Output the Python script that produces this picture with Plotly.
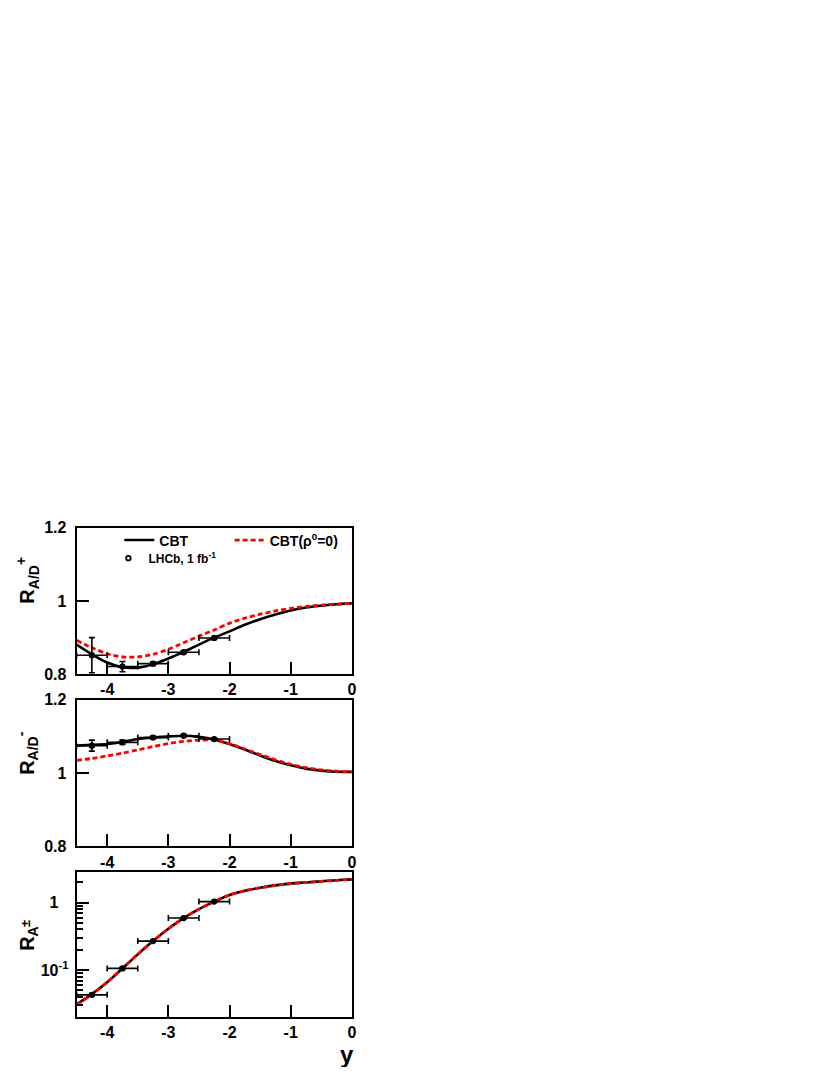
import plotly.graph_objects as go

# ---------------- data ----------------
y_grid = [-4.5, -4.25, -4.0, -3.75, -3.5, -3.25, -3.0, -2.75, -2.5, -2.25,
          -2.0, -1.75, -1.5, -1.25, -1.0, -0.75, -0.5, -0.25, 0.0]

# panel 1 : R_A/D^+
rp_cbt = [0.881, 0.8545, 0.832, 0.819, 0.818, 0.827, 0.843, 0.861, 0.881, 0.900,
          0.917, 0.935, 0.950, 0.963, 0.974, 0.982, 0.987, 0.991, 0.9933]
rp_rho0 = [0.893, 0.8725, 0.856, 0.8475, 0.8475, 0.8545, 0.868, 0.886, 0.904, 0.921,
           0.9396, 0.953, 0.9638, 0.9727, 0.980, 0.985, 0.9887, 0.9915, 0.9933]

# panel 2 : R_A/D^-
rm_cbt = [1.0752, 1.077, 1.0795, 1.085, 1.093, 1.0975, 1.100, 1.102, 1.099, 1.092,
          1.0795, 1.0644, 1.048, 1.033, 1.0215, 1.0124, 1.007, 1.004, 1.0035]
rm_rho0 = [1.035, 1.040, 1.047, 1.0545, 1.0635, 1.0725, 1.0805, 1.0867, 1.090, 1.090,
           1.0805, 1.066, 1.051, 1.0365, 1.024, 1.015, 1.009, 1.0054, 1.0035]

# panel 3 : R_A^pm (log)
rpm_cbt = [0.031, 0.044, 0.066, 0.106, 0.171, 0.269, 0.41, 0.59, 0.80, 1.035,
           1.30, 1.50, 1.66, 1.80, 1.91, 1.99, 2.07, 2.14, 2.21]
rpm_rho0 = [0.0305, 0.0435, 0.066, 0.106, 0.172, 0.270, 0.41, 0.59, 0.80, 1.035,
            1.30, 1.50, 1.66, 1.80, 1.91, 1.99, 2.07, 2.14, 2.21]

# LHCb data
lhcb_y = [-4.25, -3.75, -3.25, -2.75, -2.25]
lhcb_yerr = [0.25, 0.25, 0.25, 0.25, 0.25]
lhcb_rp = [0.852, 0.821, 0.829, 0.860, 0.899]
lhcb_rp_err = [0.048, 0.014, 0.005, 0.004, 0.004]
lhcb_rm = [1.075, 1.084, 1.097, 1.102, 1.093]
lhcb_rm_err = [0.015, 0.006, 0.004, 0.003, 0.003]
lhcb_rpm = [0.043, 0.106, 0.269, 0.59, 1.035]
lhcb_rpm_err = [0.002, 0.004, 0.008, 0.015, 0.025]

x_ticks = [-4, -3, -2, -1, 0]
x_ticktext = ["-4", "-3", "-2", "-1", "0"]
lin_ticks = [0.8, 1.0, 1.2]
lin_ticktext = ["0.8", "1", "1.2"]
log_ticks = [0.1, 1]
log_ticktext = ["10<sup>-1</sup>", "1<sup><span style='color:white'>-1</span></sup>"]
log_minor = [0.02, 0.03, 0.04, 0.05, 0.06, 0.07, 0.08, 0.09,
             0.2, 0.3, 0.4, 0.5, 0.6, 0.7, 0.8, 0.9, 2]

# ---------------- figure ----------------
# the page body has an 8px margin: figure is sized to fit the 830x1075 window
OFF = 8
W, H = 830 - 2 * OFF, 1075 - 2 * OFF
FONT = "Liberation Sans, Arial, sans-serif"
fig = go.Figure()

panels = [
    (rp_cbt, rp_rho0, lhcb_rp, lhcb_rp_err, "x", "y"),
    (rm_cbt, rm_rho0, lhcb_rm, lhcb_rm_err, "x2", "y2"),
    (rpm_cbt, rpm_rho0, lhcb_rpm, lhcb_rpm_err, "x3", "y3"),
]
for i, (cbt, rho0, dat, derr, xa, ya) in enumerate(panels):
    first = i == 0
    fig.add_trace(go.Scatter(
        x=y_grid, y=cbt, mode="lines", xaxis=xa, yaxis=ya,
        line=dict(color="black", width=2.6, shape="spline", smoothing=0.8),
        name="CBT", showlegend=first, legend="legend"))
    fig.add_trace(go.Scatter(
        x=y_grid, y=rho0, mode="lines", xaxis=xa, yaxis=ya,
        line=dict(color="#ff0000", width=2.8, dash="5px,3px", shape="spline", smoothing=0.8),
        name="CBT(ρ<sup>0</sup>=0)", showlegend=first, legend="legend2"))
    fig.add_trace(go.Scatter(
        x=lhcb_y, y=dat, mode="markers", xaxis=xa, yaxis=ya,
        marker=dict(symbol="circle-open", size=4.5, color="black", line=dict(width=1.8, color="black")),
        error_x=dict(type="data", array=lhcb_yerr, color="black", thickness=1.6, width=3),
        error_y=dict(type="data", array=derr, color="black", thickness=1.6, width=3),
        name="LHCb, 1 fb<sup>-1</sup>", showlegend=first, legend="legend3"))

def px_x(p):
    return (p - OFF) / W

def px_y(p):
    return 1 - (p - OFF) / H

xdom = [px_x(77), px_x(354)]
ydoms = [[px_y(677), px_y(528)], [px_y(852), px_y(703)], [px_y(1025), px_y(878)]]

tickfont = dict(family=FONT, size=16, color="black", weight="bold")
common_x = dict(range=[-4.5, 0], tickvals=x_ticks, ticktext=x_ticktext, ticks="inside",
                ticklen=12, tickwidth=2, tickcolor="black", showline=True, linewidth=2,
                linecolor="black", mirror=True, showgrid=False, zeroline=False,
                tickfont=tickfont, domain=xdom)
common_y = dict(ticks="inside", ticklen=12, tickwidth=2, tickcolor="black", showline=True,
                linewidth=2, linecolor="black", mirror=True, showgrid=False, zeroline=False,
                tickfont=tickfont)

legfont = dict(family=FONT, size=14, color="black", weight="bold")
fig.update_layout(
    width=W, height=H, margin=dict(l=0, r=0, t=0, b=0),
    paper_bgcolor="white", plot_bgcolor="white",
    xaxis=dict(common_x, anchor="y"),
    xaxis2=dict(common_x, anchor="y2"),
    xaxis3=dict(common_x, anchor="y3"),
    yaxis=dict(common_y, range=[0.8, 1.2], tickvals=lin_ticks, ticktext=lin_ticktext,
               domain=ydoms[0], anchor="x", ticklabelstandoff=5),
    yaxis2=dict(common_y, range=[0.8, 1.2], tickvals=lin_ticks, ticktext=lin_ticktext,
                domain=ydoms[1], anchor="x2", ticklabelstandoff=5),
    yaxis3=dict(common_y, type="log", range=[-1.69, 0.453], tickvals=log_ticks,
                ticktext=log_ticktext, domain=ydoms[2], anchor="x3", ticklabelstandoff=3,
                minor=dict(tickvals=log_minor, ticks="inside", ticklen=6, tickwidth=1.5,
                           tickcolor="black", showgrid=False)),
    legend=dict(x=px_x(120), y=px_y(541), xanchor="left", yanchor="middle",
                bgcolor="rgba(0,0,0,0)", font=legfont),
    legend2=dict(x=px_x(231), y=px_y(541), xanchor="left", yanchor="middle",
                 bgcolor="rgba(0,0,0,0)", font=legfont),
    legend3=dict(x=px_x(109), y=px_y(559), xanchor="left", yanchor="middle",
                 bgcolor="rgba(0,0,0,0)", font=dict(family=FONT, size=12, color="black", weight="bold")),
    showlegend=True,
)

title_font = dict(family=FONT, size=20, color="black", weight="bold")
annots = [
    dict(text="R<sub>A/D</sub><sup>+</sup>", x=px_x(28), y=px_y(581)),
    dict(text="R<sub>A/D</sub><sup>-</sup>", x=px_x(28), y=px_y(757)),
    dict(text="R<sub>A</sub>", x=px_x(29), y=px_y(945)),
]
for a in annots:
    fig.add_annotation(xref="paper", yref="paper", showarrow=False, textangle=-90,
                       xanchor="center", yanchor="middle", font=title_font, **a)
fig.add_annotation(text="±", xref="paper", yref="paper", x=px_x(25), y=px_y(930),
                   showarrow=False, textangle=-90, xanchor="center", yanchor="middle",
                   font=dict(family=FONT, size=13, color="black", weight="bold"))
fig.add_annotation(text="y", xref="paper", yref="paper", x=px_x(358), y=px_y(1063),
                   showarrow=False, xanchor="right", yanchor="middle",
                   font=dict(family=FONT, size=24, color="black", weight="bold"))

fig.write_html("out.html")
